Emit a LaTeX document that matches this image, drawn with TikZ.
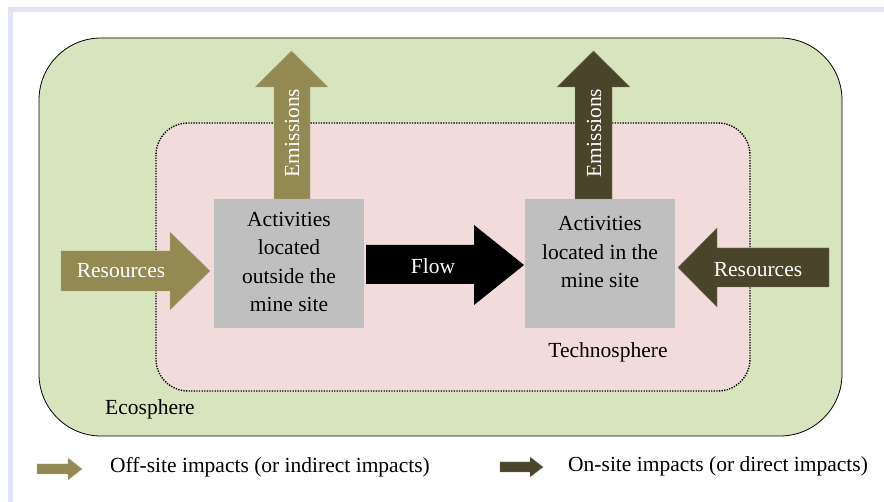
\documentclass[tikz,border=0pt]{standalone}
\usepackage{fontspec}
\setmainfont{Liberation Serif}
\definecolor{frameband}{HTML}{E1E4F2}
\definecolor{ecogreen}{HTML}{D7E4BD}
\definecolor{technopink}{HTML}{F2DCDB}
\definecolor{actgray}{HTML}{BFBFBF}
\definecolor{offsite}{HTML}{938953}
\definecolor{onsite}{HTML}{4A442A}
\tikzset{
  txt/.style={font=\fontsize{21.5}{28.5}\selectfont, inner sep=0pt},
  wtxt/.style={txt, text=white},
  actbox/.style={fill=actgray, draw=none},
  offarrow/.style={fill=offsite, draw=offsite!70!white, line width=0.4pt},
  onarrow/.style={fill=onsite, draw=onsite!70!white, line width=0.4pt},
}
\begin{document}
\begin{tikzpicture}[x=1pt,y=-1pt]
\useasboundingbox (0,0) rectangle (884,502);
\fill[white] (0,0) rectangle (884,502);
% frame bands
\fill[frameband] (8,7) rectangle (884,12.5);
\fill[frameband] (8,7) rectangle (13,502);
% ecosphere
\draw[fill=ecogreen, line width=0.8pt, rounded corners=62pt] (39,38) rectangle (842,436);
% technosphere
\draw[fill=technopink, line width=1.4pt, dash pattern=on 1.3pt off 1.3pt, rounded corners=32pt] (156,123) rectangle (750,391);
% activity boxes
\fill[actbox] (214,199) rectangle (364,328);
\fill[actbox] (525,199) rectangle (675,328);
\node[txt, align=center] (actout) at (289,262) {Activities\\located\\outside the\\mine site};
\node[txt, align=center] (actin) at (600,252) {Activities\\located in the\\mine site};
% emissions arrows
\path[offarrow] (274,199) -- (274,87) -- (255,87) -- (291.5,51) -- (328,87) -- (310,87) -- (310,199) -- cycle;
\node[wtxt, rotate=90] (emout) at (292,133) {Emissions};
\path[onarrow] (575,199) -- (575,87) -- (557,87) -- (593.5,51) -- (630,87) -- (612,87) -- (612,199) -- cycle;
\node[wtxt, rotate=90] (emin) at (594,133) {Emissions};
% resources arrows
\path[offarrow] (61,251) -- (170,251) -- (170,232) -- (210,271) -- (170,310) -- (170,291) -- (61,291) -- cycle;
\node[wtxt] (resout) at (121,271) {Resources};
\path[onarrow] (829,248) -- (717,248) -- (717,228) -- (678,267.5) -- (717,307) -- (717,287) -- (829,287) -- cycle;
\node[wtxt] (resin) at (758,270) {Resources};
% flow arrow
\fill[black] (366,245) -- (474,245) -- (474,225) -- (524,265) -- (474,305) -- (474,284) -- (366,284) -- cycle;
\node[wtxt] (flow) at (433,266) {Flow};
% sphere labels
\node[txt] (techno) at (608,352) {Technosphere};
\node[txt] (eco) at (150,409) {Ecosphere};
% legend
\path[offarrow] (37,464) -- (68,464) -- (68,458) -- (82,469) -- (68,480) -- (68,474) -- (37,474) -- cycle;
\node[txt, anchor=west] (legoff) at (110,467) {Off-site impacts (or indirect impacts)};
\path[onarrow] (500,462) -- (530,462) -- (530,457) -- (543,467) -- (530,477) -- (530,472) -- (500,472) -- cycle;
\node[txt, anchor=west] (legon) at (568,466) {On-site impacts (or direct impacts)};
\end{tikzpicture}
\end{document}
